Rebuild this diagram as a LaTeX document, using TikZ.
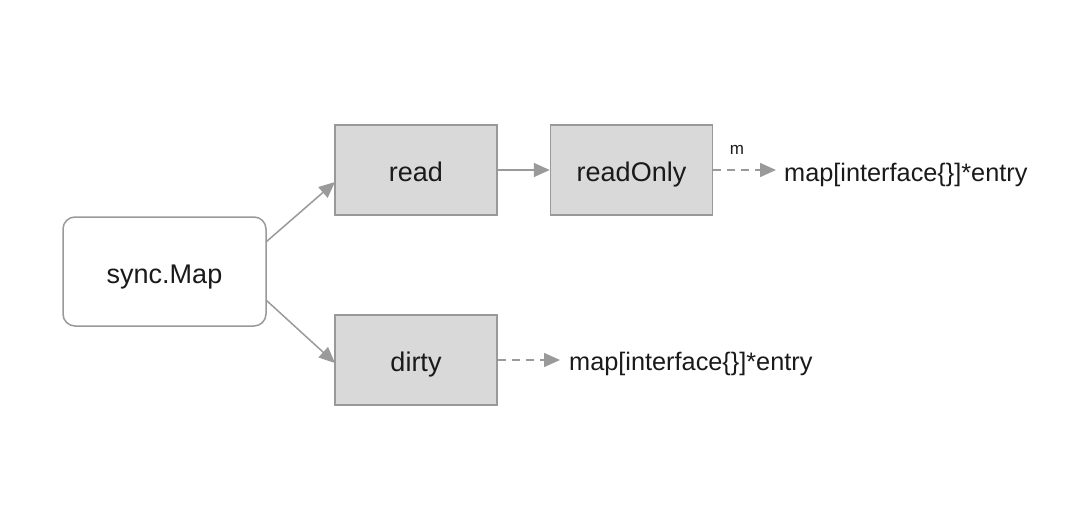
\documentclass[tikz,border=0pt]{standalone}
\usepackage{fontspec}
\setmainfont{Liberation Sans}
\usetikzlibrary{arrows.meta}
\definecolor{boxfill}{HTML}{D9D9D9}
\definecolor{boxline}{HTML}{999999}
\definecolor{arr}{HTML}{9A9A9A}
\definecolor{txt}{HTML}{1A1A1A}
\newcommand{\boxtxt}[2]{\raisebox{-#1}[0pt][0pt]{#2}}
\begin{document}
\begin{tikzpicture}[x=1pt,y=-1pt,
  graybox/.style={draw=boxline,fill=boxfill,line width=1.5pt,minimum width=162pt,minimum height=90pt,inner sep=0pt,font=\fontsize{27}{30}\selectfont,text=txt},
  whitebox/.style={draw=boxline,fill=white,line width=1.5pt,rounded corners=12pt,minimum width=203pt,minimum height=109pt,inner sep=0pt,font=\fontsize{27}{30}\selectfont,text=txt},
  conn/.style={draw=arr,line width=1.5pt,-{Triangle[length=16pt,width=14pt]}},
  dconn/.style={conn,dash pattern=on 8pt off 6pt},
  lbl/.style={font=\fontsize{25.3}{30}\selectfont,text=txt,inner sep=0pt,anchor=base west}]
\useasboundingbox (0,0) rectangle (1080,527);
\node[whitebox] (sync) at (164.5,271.5) {\boxtxt{12pt}{sync.Map}};
\node[graybox] (read) at (416,170) {\boxtxt{11pt}{read}};
\node[graybox] (ro) at (631.5,170) {\boxtxt{11pt}{readOnly}};
\node[graybox] (dirty) at (416,360) {\boxtxt{11pt}{dirty}};
\node[lbl] (m1) at (784,181) {map[interface\{\}]*entry};
\node[lbl] (m2) at (569,370) {map[interface\{\}]*entry};
\node[font=\fontsize{17}{20}\selectfont,text=txt,inner sep=0pt,anchor=base] (mlab) at (737,154) {m};
\coordinate (s1) at (266,242);
\coordinate (s2) at (266,300);
\coordinate (r1) at (335,182);
\coordinate (d1) at (335,363);
\draw[conn] (s1) -- (r1);
\draw[conn] (s2) -- (d1);
\draw[conn] (read.east) -- (ro.west);
\draw[dconn] (ro.east) -- ([xshift=-8pt]m1.west |- ro.east);
\draw[dconn] (dirty.east) -- ([xshift=-9pt]m2.west |- dirty.east);
\end{tikzpicture}
\end{document}
